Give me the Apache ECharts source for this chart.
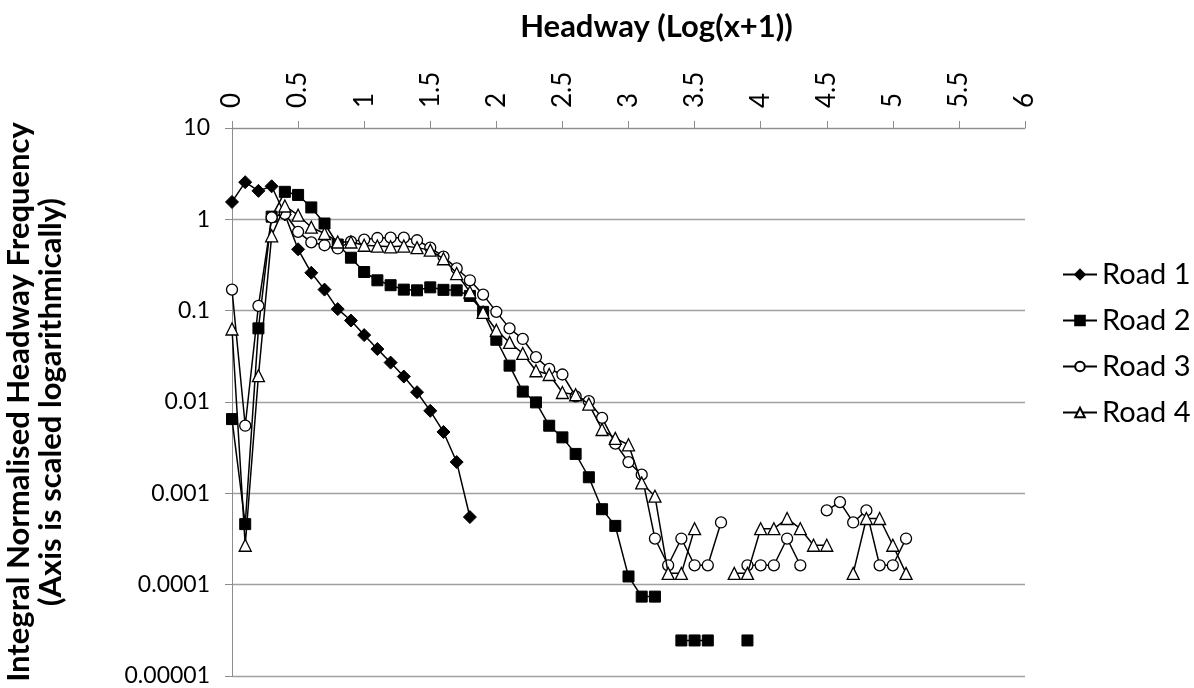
<!DOCTYPE html>
<html>
<head>
<meta charset="utf-8">
<script src="https://cdn.jsdelivr.net/npm/echarts@6/dist/echarts.min.js"></script>
<style>
html,body{margin:0;padding:0;background:#fff;}
#chart{width:1194px;height:688px;}
</style>
</head>
<body>
<div id="chart"></div>
<script>
const xValues = [0.0,0.1,0.2,0.3,0.4,0.5,0.6,0.7,0.8,0.9,1.0,1.1,1.2,1.3,1.4,1.5,1.6,1.7,1.8,1.9,
  2.0,2.1,2.2,2.3,2.4,2.5,2.6,2.7,2.8,2.9,3.0,3.1,3.2,3.3,3.4,3.5,3.6,3.7,3.8,3.9,
  4.0,4.1,4.2,4.3,4.4,4.5,4.6,4.7,4.8,4.9,5.0,5.1];

const road1 = [1.55,2.55,2.05,2.3,1.13,0.47,0.26,0.17,0.104,0.078,0.054,0.038,0.027,0.019,0.0128,0.008,0.0047,0.0022,0.00055];

const road2 = [0.0065,0.00046,0.064,1.07,2.0,1.85,1.35,0.9,0.53,0.38,0.265,0.215,0.19,0.17,0.167,0.18,0.169,0.167,0.145,0.097,
  0.048,0.025,0.013,0.0099,0.0055,0.0041,0.0027,0.0015,0.00067,0.00044,0.000123,0.000074,0.000074,null,0.0000245,0.0000245,0.0000245,null,null,0.0000245];

const road3 = [0.17,0.0055,0.113,1.05,1.15,0.73,0.56,0.52,0.48,0.57,0.60,0.625,0.63,0.63,0.59,0.49,0.39,0.29,0.215,0.15,
  0.097,0.064,0.049,0.031,0.023,0.020,0.0115,0.0102,0.0067,0.0035,0.0022,0.0016,0.00032,0.000163,0.00032,0.000163,0.000163,0.00048,null,0.000163,
  0.000163,0.000163,0.00032,0.000163,null,0.00065,0.0008,0.00048,0.00065,0.000163,0.000163,0.00032];

const road4 = [0.063,0.00027,0.0194,0.66,1.40,1.11,0.82,0.70,0.565,0.565,0.52,0.51,0.50,0.51,0.49,0.46,0.37,0.255,0.16,0.096,
  0.061,0.045,0.034,0.022,0.020,0.0127,0.012,0.0095,0.005,0.0040,0.0034,0.0013,0.00093,0.000133,0.000133,0.00041,null,null,0.000133,0.000133,
  0.00041,0.00041,0.00053,0.00041,0.00027,0.00027,null,0.000133,0.00053,0.00053,0.00027,0.000133];

const seriesNames = ['Road 1','Road 2','Road 3','Road 4'];
const xTickLabels = ['0','0.5','1','1.5','2','2.5','3','3.5','4','4.5','5','5.5','6'];
const yTickLabels = ['0.00001','0.0001','0.001','0.01','0.1','1','10'];

const FONT = 'Lato';

function pairs(arr){ return arr.map((v,i)=>[xValues[i], v]); }

const styles = [
  {symbol:'diamond', symbolSize:13, itemStyle:{color:'#000', borderColor:'#000', borderWidth:1}},
  {symbol:'rect', symbolSize:11, itemStyle:{color:'#000', borderColor:'#000', borderWidth:1}},
  {symbol:'circle', symbolSize:11, itemStyle:{color:'#fff', borderColor:'#000', borderWidth:1.3}},
  {symbol:'triangle', symbolSize:12, itemStyle:{color:'#fff', borderColor:'#000', borderWidth:1.3}}
];
const datasets = [road1, road2, road3, road4];

const chart = echarts.init(document.getElementById('chart'), null, {renderer:'canvas'});
chart.setOption({
  animation:false,
  backgroundColor:'#fff',
  textStyle:{fontFamily:FONT, color:'#000'},
  grid:{left:232, right:169, top:128, bottom:12, containLabel:false, outerBoundsMode:'none'},
  legend:{
    orient:'vertical', left:1057, top:255,
    itemWidth:34, itemHeight:12, itemGap:17,
    textStyle:{fontFamily:FONT, fontSize:29, color:'#000'},
    data:seriesNames
  },
  xAxis:{
    type:'value', position:'top', min:0, max:6, interval:0.5,
    name:'Headway (Log(x+1))', nameLocation:'middle', nameGap:86,
    nameTextStyle:{fontFamily:FONT, fontSize:31, fontWeight:'bold', color:'#000', padding:[0,0,0,56]},
    axisLine:{show:true, lineStyle:{color:'#8c8c8c', width:1}},
    axisTick:{show:true, inside:false, length:7, lineStyle:{color:'#8c8c8c'}},
    splitLine:{show:false},
    axisLabel:{rotate:-90, fontSize:26, margin:20, color:'#000', fontFamily:FONT,
      formatter:function(v){ return xTickLabels[Math.round(v/0.5)]; }}
  },
  yAxis:{
    type:'log', logBase:10, min:0.00001, max:10,
    name:'Integral Normalised Headway Frequency\n(Axis is scaled logarithmically)',
    nameLocation:'middle', nameGap:165, nameRotate:90,
    nameTextStyle:{fontFamily:FONT, fontSize:31, fontWeight:'bold', color:'#000', lineHeight:32},
    axisLine:{show:true, lineStyle:{color:'#8c8c8c', width:1}},
    axisTick:{show:true, inside:false, length:7, lineStyle:{color:'#8c8c8c'}},
    splitLine:{show:true, lineStyle:{color:'#a0a0a0', width:1.3}},
    minorTick:{show:false},
    axisLabel:{fontSize:23, margin:22, color:'#000', fontFamily:FONT,
      formatter:function(v){ return yTickLabels[Math.round(Math.log10(v)) + 5]; }}
  },
  series: seriesNames.map((name,i)=>({
    name:name, type:'line',
    data:pairs(datasets[i]),
    symbol:styles[i].symbol, symbolSize:styles[i].symbolSize,
    showSymbol:true, showAllSymbol:true, connectNulls:false,
    lineStyle:{color:'#000', width:1.5},
    itemStyle:styles[i].itemStyle,
    emphasis:{disabled:true},
    z:2+i
  }))
});
</script>
</body>
</html>
